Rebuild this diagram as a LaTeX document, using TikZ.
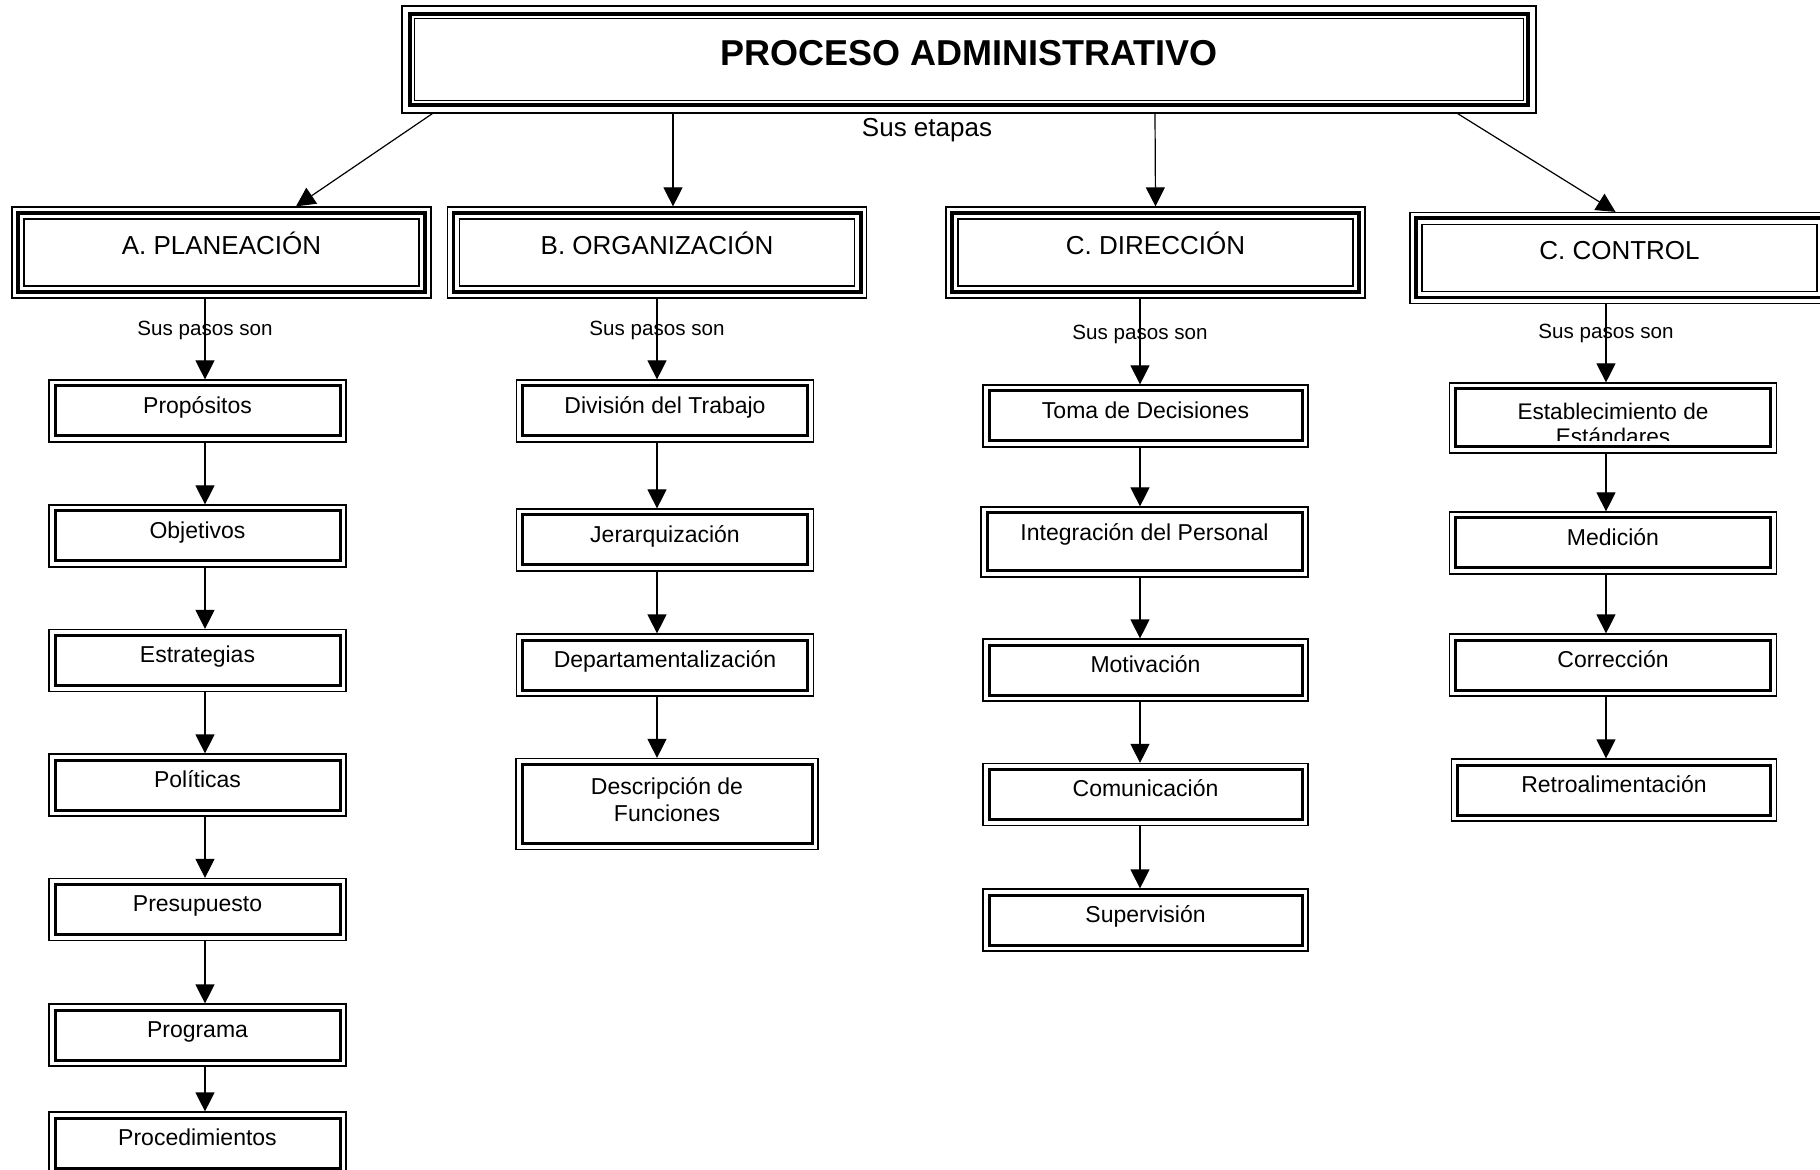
\documentclass[tikz,border=0pt]{standalone}
\usepackage{fontspec}
\setmainfont{Liberation Sans}
\usetikzlibrary{arrows.meta}

% thick or thin frame drawn inside a box
\newcommand{\insetrect}[2]{\draw[line width=#2] ([shift={(#1,#1)}]path picture bounding box.south west) rectangle ([shift={(-#1,-#1)}]path picture bounding box.north east);}

\begin{document}
\begin{tikzpicture}[
	x=0.5pt, y=-0.5pt,
	titlebox/.style={ draw, line width=0.6pt, minimum width=567pt, minimum height=53.5pt, font=\bfseries\fontsize{18}{21}\selectfont, text height=14pt, text depth=8.1pt, path picture={\insetrect{3.9pt}{2pt}\insetrect{6.4pt}{0.6pt}} },
	stagebox/.style={ draw, line width=0.6pt, minimum width=209.5pt, minimum height=45.5pt, font=\fontsize{13}{15}\selectfont, text height=10pt, text depth=8.3pt, path picture={\insetrect{2.9pt}{1.8pt}\insetrect{6pt}{0.6pt}} },
	stepbox/.style={ draw, line width=0.6pt, minimum width=#1, minimum height=31pt, font=\fontsize{11.5}{13.3}\selectfont, text height=9pt, text depth=6.7pt, path picture={\insetrect{3pt}{1.5pt}} },
	stepbox/.default=148.5pt,
	arrow/.style={ line width=0.6pt, -{Triangle[length=9.5pt,width=9.5pt]} },
	paso/.style={ font=\fontsize{10.3}{12}\selectfont, pos=0.4 }
]

\useasboundingbox[fill=white] (0,0) rectangle (1820,1170);

\node at (969,59.5) (title) [titlebox] {PROCESO ADMINISTRATIVO};
\node at (927,130) (etapas) [font=\fontsize{13}{15}\selectfont] {Sus etapas};

% etapas
\node at (221.5,252.5) (pla) [stagebox] {A. PLANEACIÓN};
\node at (657,252.5) (org) [stagebox] {B. ORGANIZACIÓN};
\node at (1155.5,252.5) (dir) [stagebox] {C. DIRECCIÓN};
\node at (1619.5,258) (ctrl) [stagebox] {C. CONTROL};

\draw[arrow] ([xshift=15.5pt]title.south west) to ([xshift=37.25pt]pla.north);
\draw[arrow] ([xshift=-148pt]title.south) to ([xshift=8pt]org.north);
\draw[arrow] ([xshift=93pt]title.south) to (dir.north);
\draw[arrow] ([xshift=-39.5pt]title.south east) to ([xshift=-2pt]ctrl.north);

% planeacion
\coordinate (xa) at (205,0);
\node at (197.5,411) (prop) [stepbox] {Propósitos};
\node at (197.5,536) (obj) [stepbox] {Objetivos};
\node at (197.5,660.5) (estr) [stepbox] {Estrategias};
\node at (197.5,785) (pol) [stepbox] {Políticas};
\node at (197.5,909.5) (pres) [stepbox] {Presupuesto};
\node at (197.5,1035) (prog) [stepbox] {Programa};
\node at (197.5,1143) (proc) [stepbox] {Procedimientos};
\draw[arrow] (pla.south -| xa) to node[paso] {Sus pasos son} (prop.north -| xa);
\draw[arrow] (prop.south -| xa) to (obj.north -| xa);
\draw[arrow] (obj.south -| xa) to (estr.north -| xa);
\draw[arrow] (estr.south -| xa) to (pol.north -| xa);
\draw[arrow] (pol.south -| xa) to (pres.north -| xa);
\draw[arrow] (pres.south -| xa) to (prog.north -| xa);
\draw[arrow] (prog.south -| xa) to (proc.north -| xa);

% organizacion
\coordinate (xb) at (657,0);
\node at (665,411) (div) [stepbox] {División del Trabajo};
\node at (665,540) (jer) [stepbox] {Jerarquización};
\node at (665,665) (dep) [stepbox] {Departamentalización};
\node at (667,804) (desc) [stepbox=151pt, minimum height=45.5pt, align=center, text height=, text depth=4.6pt] {Descripción de\\Funciones};
\draw[arrow] (org.south -| xb) to node[paso] {Sus pasos son} (div.north -| xb);
\draw[arrow] (div.south -| xb) to (jer.north -| xb);
\draw[arrow] (jer.south -| xb) to (dep.north -| xb);
\draw[arrow] (dep.south -| xb) to (desc.north -| xb);

% direccion
\coordinate (xc) at (1140,0);
\node at (1145.5,416) (toma) [stepbox=162.5pt] {Toma de Decisiones};
\node at (1144.5,542) (integ) [stepbox=163.5pt, minimum height=35pt, text height=9pt, text depth=10.1pt] {Integración del Personal};
\node at (1145.5,670) (motiv) [stepbox=162.5pt] {Motivación};
\node at (1145.5,794.5) (comun) [stepbox=162.5pt] {Comunicación};
\node at (1145.5,920) (superv) [stepbox=162.5pt] {Supervisión};
\draw[arrow] (dir.south -| xc) to node[paso, pos=0.42] {Sus pasos son} (toma.north -| xc);
\draw[arrow] (toma.south -| xc) to (integ.north -| xc);
\draw[arrow] (integ.south -| xc) to (motiv.north -| xc);
\draw[arrow] (motiv.south -| xc) to (comun.north -| xc);
\draw[arrow] (comun.south -| xc) to (superv.north -| xc);

% control
\coordinate (xd) at (1606,0);
\node at (1613,418) (estab) [stepbox=163.5pt, minimum height=35pt] {};
\begin{scope}
	\clip ([shift={(4pt,6.5pt)}]estab.south west) rectangle ([shift={(-4pt,-3pt)}]estab.north east);
	\node at (1613,424) (estabtxt) [align=center, font=\fontsize{11.3}{12.8}\selectfont] {Establecimiento de\\Estándares};
\end{scope}
\node at (1613,543) (med) [stepbox=163.5pt] {Medición};
\node at (1613,665) (corr) [stepbox=163.5pt] {Corrección};
\node at (1614,790) (retro) [stepbox=162.5pt] {Retroalimentación};
\draw[arrow] (ctrl.south -| xd) to node[paso, pos=0.38] {Sus pasos son} (estab.north -| xd);
\draw[arrow] (estab.south -| xd) to (med.north -| xd);
\draw[arrow] (med.south -| xd) to (corr.north -| xd);
\draw[arrow] (corr.south -| xd) to (retro.north -| xd);

\end{tikzpicture}
\end{document}
